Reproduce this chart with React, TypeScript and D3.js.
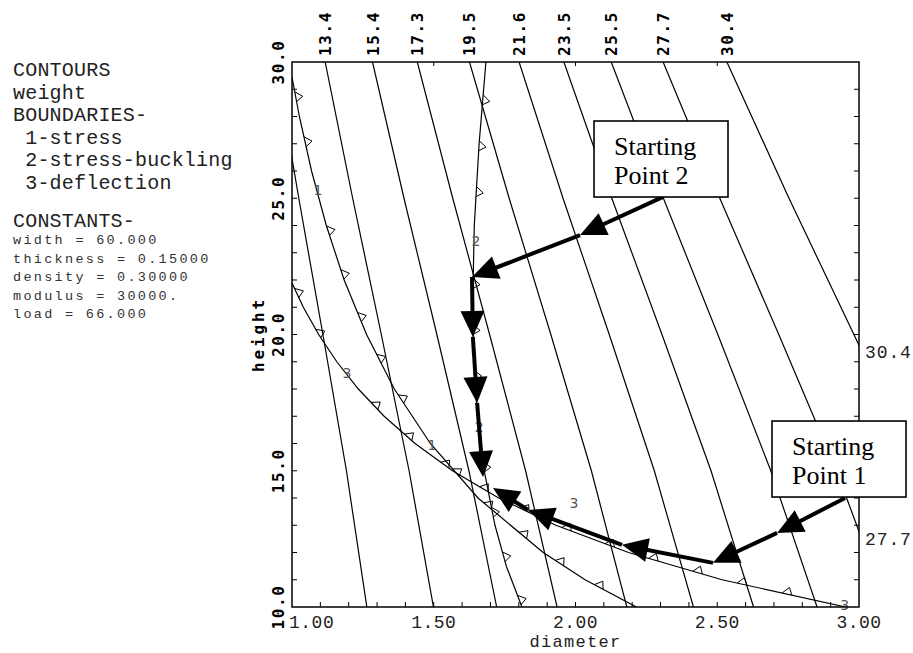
import * as d3 from "d3";

const W = 913;
const H = 653;
const plot = { left: 292, right: 859, top: 62, bottom: 607 };

// weight contours: diameter read at each height
const contourLevels = ["11.3", "13.4", "15.4", "17.3", "19.5", "21.6", "23.5", "25.5", "27.7", "30.4"];
const contourHeights = [30, 25, 20, 15, 10];
const contourDiameters = [
  [0.942, 1.024, 1.109, 1.192, 1.264],
  [1.117, 1.214, 1.315, 1.413, 1.499],
  [1.284, 1.395, 1.511, 1.624, 1.722],
  [1.442, 1.567, 1.697, 1.824, 1.935],
  [1.626, 1.766, 1.913, 2.056, 2.181],
  [1.801, 1.956, 2.119, 2.278, 2.416],
  [1.959, 2.128, 2.305, 2.478, 2.628],
  [2.126, 2.31, 2.502, 2.689, 2.852],
  [2.309, 2.509, 2.717, 2.921, 3.098],
  [2.534, 2.753, 2.982, 3.206, 3.4],
];

// boundaries
const stressHeights = [29.45, 28, 26, 24, 22, 20, 18, 16, 14, 12, 11, 10];
const stressDiameters = [1.0, 1.026, 1.069, 1.121, 1.184, 1.263, 1.361, 1.488, 1.656, 1.886, 2.034, 2.215];
const bucklingHeights = [30, 27, 24, 21, 19, 17, 15, 13, 11.5, 10];
const bucklingDiameters = [1.684, 1.66, 1.643, 1.637, 1.641, 1.654, 1.678, 1.716, 1.756, 1.811];
const deflectionHeights = [21.89, 21, 20, 19, 18, 17, 16, 15, 14, 13, 12, 11, 10];
const deflectionDiameters = [1.0, 1.04, 1.094, 1.158, 1.234, 1.325, 1.434, 1.566, 1.729, 1.931, 2.187, 2.517, 2.953];

const boundaryLabelText = ["1", "1", "2", "2", "3", "3", "3"];
const boundaryLabelD = [1.092, 1.494, 1.649, 1.66, 1.194, 1.995, 2.95];
const boundaryLabelH = [25.3, 15.94, 23.43, 16.6, 18.59, 13.82, 10.07];

// search paths from the two starting points
const path2D = [2.309, 2.016, 1.635, 1.638, 1.653, 1.674];
const path2H = [25.05, 23.65, 22.11, 19.91, 17.49, 14.77];
const path1D = [2.951, 2.711, 2.485, 2.164, 1.833, 1.709];
const path1H = [14.0, 12.72, 11.62, 12.28, 13.56, 14.37];

const startBoxes = [
  { lines: ["Starting", "Point 2"], d: 2.3016, h: 26.44 },
  { lines: ["Starting", "Point 1"], d: 2.9295, h: 15.43 },
];

const xTickLabels = ["1.00", "1.50", "2.00", "2.50", "3.00"];
const yTickLabels = ["10.0", "15.0", "20.0", "25.0", "30.0"];
const infoLines = ["CONTOURS", "weight", "BOUNDARIES-", " 1-stress", " 2-stress-buckling", " 3-deflection"];
const constantLines = ["width = 60.000", "thickness = 0.15000", "density = 0.30000", "modulus = 30000.", "load = 66.000"];

const x = d3.scaleLinear().domain([1, 3]).range([plot.left, plot.right]);
const y = d3.scaleLinear().domain([10, 30]).range([plot.bottom, plot.top]);

const line = d3
  .line<[number, number]>()
  .x((p) => x(p[0]))
  .y((p) => y(p[1]));

const zip = (ds: number[], hs: number[]): [number, number][] => ds.map((d, i) => [d, hs[i]]);

const labelPx: [number, number][] = boundaryLabelD.map((d, i) => [x(d), y(boundaryLabelH[i])]);

// little open triangles along a boundary, on the larger-diameter side
function flags(data: [number, number][], offset: number, step: number) {
  const pts = data.map((p) => [x(p[0]), y(p[1])]);
  const out: string[] = [];
  let acc = 0;
  let next = offset;
  for (let i = 0; i < pts.length - 1; i++) {
    const [x0, y0] = pts[i];
    const [x1, y1] = pts[i + 1];
    const len = Math.hypot(x1 - x0, y1 - y0);
    const ux = (x1 - x0) / len;
    const uy = (y1 - y0) / len;
    while (next <= acc + len) {
      const t = next - acc;
      const px = x0 + ux * t;
      const py = y0 + uy * t;
      const near = labelPx.some(([ax, ay]) => Math.hypot(ax - px, ay - py) < 15);
      if (!near) {
        const nx = uy;
        const ny = -ux;
        out.push(`M${px - ux * 5},${py - uy * 5}L${px + nx * 7 + ux * 1},${py + ny * 7 + uy * 1}L${px + ux * 5},${py + uy * 5}`);
      }
      next += step;
    }
    acc += len;
  }
  return out;
}

function arrows(ds: number[], hs: number[]) {
  const pts = ds.map((d, i) => [x(d), y(hs[i])]);
  const segs: { line: string; head: string }[] = [];
  for (let i = 0; i < pts.length - 1; i++) {
    const [ax, ay] = pts[i];
    const [bx, by] = pts[i + 1];
    const len = Math.hypot(bx - ax, by - ay);
    const ux = (bx - ax) / len;
    const uy = (by - ay) / len;
    const cx = bx - ux * 26;
    const cy = by - uy * 26;
    segs.push({
      line: `M${ax},${ay}L${bx - ux * 12},${by - uy * 12}`,
      head: `M${bx},${by}L${cx + uy * 12},${cy - ux * 12}L${cx - uy * 12},${cy + ux * 12}Z`,
    });
  }
  return segs;
}

export default function App() {
  const boundaries = [
    { pts: zip(stressDiameters, stressHeights), offset: 20 },
    { pts: zip(bucklingDiameters, bucklingHeights), offset: 38 },
    { pts: zip(deflectionDiameters, deflectionHeights), offset: 11 },
  ];
  const contours = contourDiameters.map((ds) => zip(ds, contourHeights));
  const xMinor = d3.range(11, 30).map((v) => v / 10);
  const yMinor = d3.range(11, 30);
  const monoBold = { fontFamily: "DejaVu Sans Mono", fontWeight: "bold" as const, fontSize: 16, letterSpacing: 1.6 };
  const mono = { fontFamily: "Liberation Mono", fontSize: 18, letterSpacing: 0.5 };

  return (
    <svg width={W} height={H} style={{ position: "absolute", left: 0, top: 0, background: "#fff" }}>
      <defs>
        <clipPath id="plotClip">
          <rect x={plot.left} y={plot.top} width={plot.right - plot.left} height={plot.bottom - plot.top} />
        </clipPath>
      </defs>
      <rect width={W} height={H} fill="#fff" />

      {/* info block */}
      <g fontFamily="Liberation Mono" fontSize={20} letterSpacing={0.2} fill="#222">
        {infoLines.map((t, i) => (
          <text key={t} x={13} y={76 + i * 22.6} style={{ whiteSpace: "pre" }}>
            {t}
          </text>
        ))}
        <text x={13} y={227}>CONSTANTS-</text>
      </g>
      <g fontFamily="Liberation Mono" fontSize={13.5} letterSpacing={2.3} fill="#333">
        {constantLines.map((t, i) => (
          <text key={t} x={13} y={244 + i * 18.5}>
            {t}
          </text>
        ))}
      </g>

      {/* contours */}
      <g clipPath="url(#plotClip)" fill="none" stroke="#000" strokeWidth={1.2}>
        {contours.map((c, i) => (
          <path key={contourLevels[i]} d={line(c) ?? ""} />
        ))}
        {boundaries.map((b, i) => (
          <g key={i}>
            <path d={line(b.pts) ?? ""} />
            {flags(b.pts, b.offset, 46).map((f, j) => (
              <path key={j} d={f} strokeWidth={1} />
            ))}
          </g>
        ))}
      </g>

      {/* boundary numbers */}
      <g fontFamily="DejaVu Sans" fontSize={14} fill="#555" textAnchor="middle">
        {boundaryLabelText.map((t, i) => (
          <text key={i} x={labelPx[i][0]} y={labelPx[i][1] + 5}>
            {t}
          </text>
        ))}
      </g>

      {/* frame and ticks */}
      <rect
        x={plot.left}
        y={plot.top}
        width={plot.right - plot.left}
        height={plot.bottom - plot.top}
        fill="none"
        stroke="#000"
        strokeWidth={1.5}
      />
      <g stroke="#000" strokeWidth={1}>
        {xMinor.map((v) => (
          <line key={"b" + v} x1={x(v)} x2={x(v)} y1={plot.bottom} y2={plot.bottom - 5} />
        ))}
        {[1.5, 2, 2.5].map((v) => (
          <line key={"t" + v} x1={x(v)} x2={x(v)} y1={plot.top} y2={plot.top + 4} />
        ))}
        {yMinor.map((v) => (
          <line key={"l" + v} x1={plot.left} x2={plot.left + 5} y1={y(v)} y2={y(v)} />
        ))}
        {yMinor.map((v) => (
          <line key={"r" + v} x1={plot.right} x2={plot.right - 5} y1={y(v)} y2={y(v)} />
        ))}
      </g>

      {/* x tick labels */}
      <g {...mono} fill="#222">
        {xTickLabels.map((t, i) => (
          <text key={t} x={i === 0 ? x(+t) - 3 : x(+t)} y={628} textAnchor={i === 0 ? "start" : "middle"}>
            {t}
          </text>
        ))}
      </g>
      <text x={(plot.left + plot.right) / 2} y={647} textAnchor="middle" fontFamily="Liberation Mono" fontSize={17} letterSpacing={1.3} fill="#222">
        diameter
      </text>

      {/* y tick labels, rotated */}
      <g {...monoBold} fill="#000">
        {yTickLabels.map((t) => (
          <text key={t} transform={`translate(284,${y(+t)}) rotate(-90)`} textAnchor="middle">
            {t}
          </text>
        ))}
      </g>
      <text
        transform={`translate(264,${(plot.top + plot.bottom) / 2}) rotate(-90)`}
        textAnchor="middle"
        {...monoBold}
        letterSpacing={2.9}
      >
        height
      </text>

      {/* contour value labels at top and right */}
      <g {...monoBold} fill="#000">
        {contourDiameters.map((ds, i) =>
          ds[0] >= 1 ? (
            <text key={contourLevels[i]} transform={`translate(${x(ds[0]) + 6},56) rotate(-90)`}>
              {contourLevels[i]}
            </text>
          ) : null
        )}
      </g>
      <g {...mono} letterSpacing={0.9} fill="#222">
        {contourDiameters.map((ds, i) => {
          const k = ds.findIndex((d) => d > 3);
          if (k < 1 || ds[0] < 1) return null;
          const t = (3 - ds[k - 1]) / (ds[k] - ds[k - 1]);
          const hExit = contourHeights[k - 1] + t * (contourHeights[k] - contourHeights[k - 1]);
          return (
            <text key={contourLevels[i]} x={865} y={y(hExit) + 13}>
              {contourLevels[i]}
            </text>
          );
        })}
      </g>

      {/* search paths */}
      <g>
        {[arrows(path2D, path2H), arrows(path1D, path1H)].map((segs, k) =>
          segs.map((s, i) => (
            <g key={k + "-" + i}>
              <path d={s.line} stroke="#000" strokeWidth={4} fill="none" />
              <path d={s.head} fill="#000" />
            </g>
          ))
        )}
      </g>

      {/* starting point boxes */}
      {startBoxes.map((b) => {
        const cx = x(b.d);
        const cy = y(b.h);
        return (
          <g key={b.lines[1]}>
            <rect x={cx - 67} y={cy - 38} width={134} height={76} fill="#fff" stroke="#000" strokeWidth={1.6} />
            {b.lines.map((t, i) => (
              <text key={t} x={cx - 47} y={cy - 4 + i * 29} fontFamily="Liberation Serif" fontSize={26} fill="#000">
                {t}
              </text>
            ))}
          </g>
        );
      })}
    </svg>
  );
}
